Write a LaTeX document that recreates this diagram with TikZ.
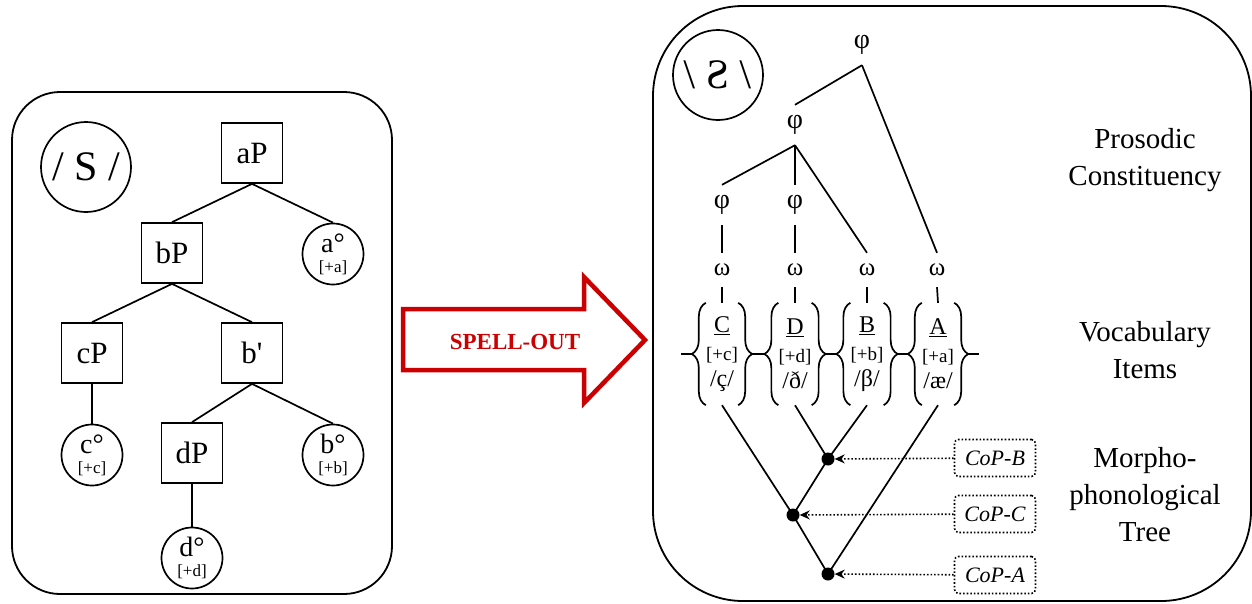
\documentclass[tikz,border=0pt]{standalone}
\usepackage{fontspec}
\setmainfont{Liberation Serif}
\usepackage{graphicx}
\usepackage{xcolor}
\usetikzlibrary{arrows.meta,calc,positioning,decorations.pathreplacing}
\definecolor{spellred}{HTML}{CC0000}
\newcommand{\fsz}[2]{\fontsize{#1}{#2}\selectfont}
\tikzset{
  panel/.style={draw,line width=1.8pt},
  edge/.style={line width=1.7pt},
  synbox/.style={draw,line width=1.7pt,minimum width=61pt,minimum height=60pt,inner sep=0pt,font=\fsz{31}{36}},
  headnode/.style={draw,circle,line width=1.7pt,minimum size=61pt,inner sep=0pt,align=center,font=\fsz{28}{30}},
  pros/.style={inner sep=0pt,minimum height=40pt,font=\fsz{28}{30}},
  omega/.style={inner sep=0pt,minimum height=34pt,font=\fsz{25}{26}},
  vocab/.style={inner sep=0pt,minimum width=32pt,minimum height=102pt,align=center,font=\fsz{24}{26}},
  bracepath/.style={line width=1.7pt,decorate,decoration={brace,amplitude=14pt}},
  dot/.style={circle,fill=black,inner sep=0pt,minimum size=13pt},
  copbox/.style={draw,dotted,line width=1.6pt,rounded corners=4pt,minimum width=81pt,minimum height=37pt,font=\itshape\fsz{22}{24}},
  pointer/.style={dotted,line width=1.6pt,-{Stealth[length=10pt,width=9pt]}},
  lvl/.style={align=center,font=\fsz{29}{37}}
}

\begin{document}
\begin{tikzpicture}[x=1pt,y=-1pt]
  \useasboundingbox (0,0) rectangle (1252,603);
  % syntax side
  \draw[panel,rounded corners=48pt] (12,92) rectangle (392,594);
  \node[headnode,minimum size=90pt,font=\fsz{42}{42}] (slash) at (86,167) {/ S /};
  \node[synbox] (aP) at (252,153) {aP};
  \node[synbox] (bP) at (172,253) {bP};
  \node[headnode] (a0) at (333,254) {a°\\[-10pt]{\fsz{17}{18}[+a]}};
  \node[synbox] (cP) at (92,353) {cP};
  \node[synbox] (b1) at (252,353) {b\textquotesingle};
  \node[headnode] (c0) at (92,455) {c°\\[-10pt]{\fsz{17}{18}[+c]}};
  \node[synbox] (dP) at (192,453) {dP};
  \node[headnode] (b0) at (333,455) {b°\\[-10pt]{\fsz{17}{18}[+b]}};
  \node[headnode] (d0) at (192,558) {d°\\[-10pt]{\fsz{17}{18}[+d]}};
  \draw[edge] (aP.south) -- (bP.north);
  \draw[edge] (aP.south) -- (a0.north);
  \draw[edge] (bP.south) -- (cP.north);
  \draw[edge] (bP.south) -- (b1.north);
  \draw[edge] (cP.south) -- (c0.north);
  \draw[edge] (b1.south) -- (dP.north);
  \draw[edge] (b1.south) -- (b0.north);
  \draw[edge] (dP.south) -- (d0.north);

  % spell-out arrow
  \draw[spellred,line width=4.5pt] (403,309) -- (584,309) -- (584,277) -- (645,340)
    -- (584,403) -- (584,370) -- (403,370) -- cycle;
  \node[spellred,font=\bfseries\fsz{23}{26}] (spell) at (515,342) {SPELL-OUT};

  % phonology side
  \draw[panel,rounded corners=90pt] (653,6) rectangle (1251,601);
  \node[headnode,minimum size=90pt,font=\fsz{42}{42}] (mirror) at (718,75) {\reflectbox{/ S /}};
  \node[pros] (p0) at (862,45) {φ};
  \node[pros] (p1) at (795,125) {φ};
  \node[pros] (pC) at (722,205) {φ};
  \node[pros] (pD) at (795,205) {φ};
  \foreach \nm/\xx in {C/722,D/795,B/867,A/937}
    \node[omega] (w\nm) at (\xx,270) {ω};
  \draw[edge] (p0.south) -- (p1.north);
  \draw[edge] (p0.south) -- (wA.north);
  \draw[edge] (p1.south) -- (pC.north);
  \draw[edge] (p1.south) -- (pD.north);
  \draw[edge] (p1.south) -- (wB.north);
  \draw[edge] (pC.south) -- (wC.north);
  \draw[edge] (pD.south) -- (wD.north);

  \foreach \nm/\xx/\ft/\ph in {C/722/c/ç,D/795/d/ð,B/867/b/β,A/938/a/æ} {
    \node[vocab] (v\nm) at (\xx,354) {\underline{\nm}\\[2pt]{\fsz{19}{22}[+\ft]}\\/\ph/};
    \draw[edge] (w\nm.south) -- (v\nm.north);
    \draw[bracepath] (v\nm.south west) -- (v\nm.north west);
    \draw[bracepath] (v\nm.north east) -- (v\nm.south east);
  }
  \draw[edge] ([xshift=-25pt]vC.west) -- ([xshift=-14pt]vC.west);
  \draw[edge] ([xshift=14pt]vC.east) -- ([xshift=-14pt]vD.west);
  \draw[edge] ([xshift=14pt]vD.east) -- ([xshift=-14pt]vB.west);
  \draw[edge] ([xshift=14pt]vB.east) -- ([xshift=-14pt]vA.west);
  \draw[edge] ([xshift=14pt]vA.east) -- ([xshift=25pt]vA.east);

  \node[dot] (dB) at (828,459) {};
  \node[dot] (dC) at (793,515) {};
  \node[dot] (dA) at (828,574) {};
  \draw[edge] (vC.south) -- (dC.center);
  \draw[edge] (vD.south) -- (dB.center);
  \draw[edge] (vB.south) -- (dB.center);
  \draw[edge] (dB.center) -- (dC.center);
  \draw[edge] (dC.center) -- (dA.center);
  \draw[edge] (vA.south) -- (dA.center);

  \node[copbox] (copB) at (995,458) {CoP-B};
  \node[copbox] (copC) at (995,514) {CoP-C};
  \node[copbox] (copA) at (995,575) {CoP-A};
  \draw[pointer] (copB) -- (dB);
  \draw[pointer] (copC) -- (dC);
  \draw[pointer] (copA) -- (dA);

  \node[lvl] (prosodic) at (1145,160) {Prosodic\\Constituency};
  \node[lvl] (vocabulary) at (1145,350) {Vocabulary\\Items};
  \node[lvl] (morpho) at (1145,495) {Morpho-\\phonological\\Tree};
\end{tikzpicture}
\end{document}
